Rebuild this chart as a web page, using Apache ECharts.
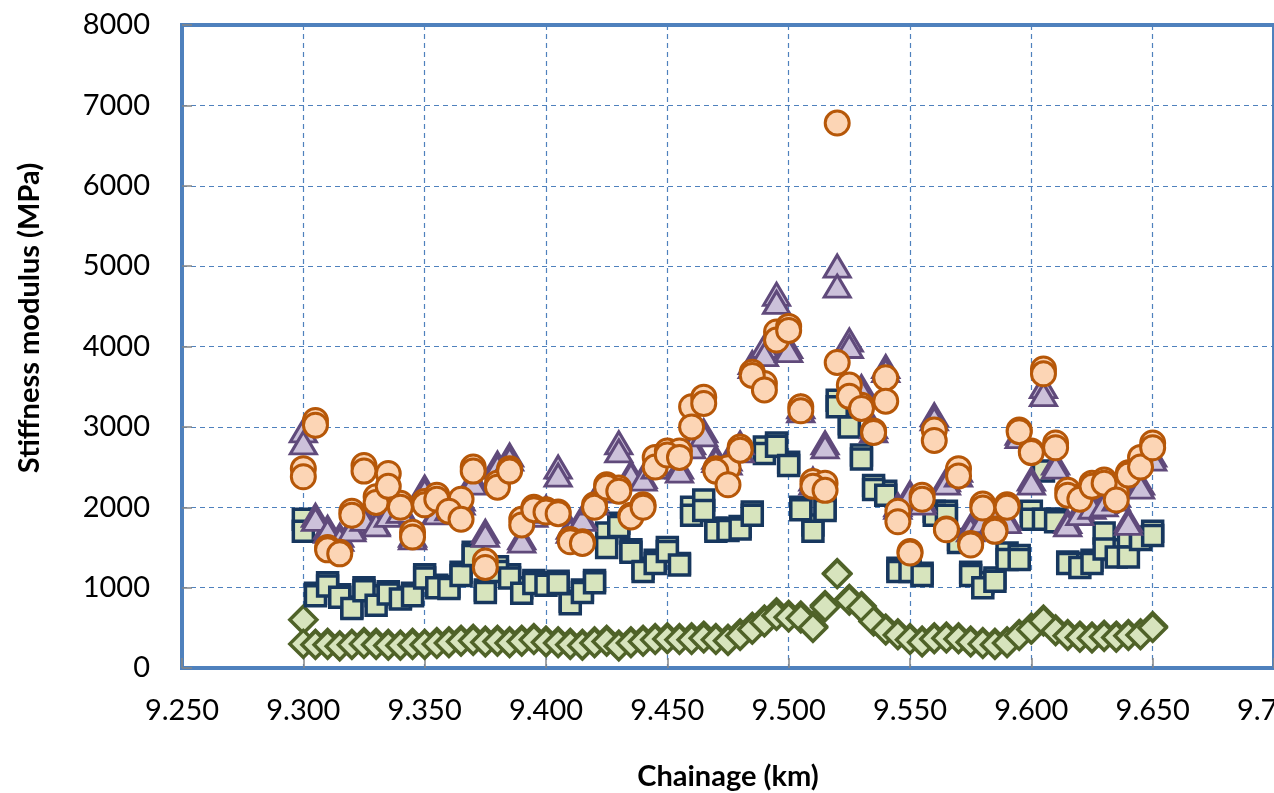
<!DOCTYPE html>
<html>
<head>
<meta charset="utf-8">
<script src="https://cdn.jsdelivr.net/npm/echarts@6/dist/echarts.min.js"></script>
<style>
  html, body { margin: 0; padding: 0; background: #ffffff; }
  #chart { width: 1274px; height: 793px; }
</style>
</head>
<body>
<div id="chart"></div>
<script>
// Survey stations along the alignment (km)
const chainage = [
  9.300, 9.305, 9.310, 9.315, 9.320, 9.325, 9.330, 9.335, 9.340, 9.345,
  9.350, 9.355, 9.360, 9.365, 9.370, 9.375, 9.380, 9.385, 9.390, 9.395,
  9.400, 9.405, 9.410, 9.415, 9.420, 9.425, 9.430, 9.435, 9.440, 9.445,
  9.450, 9.455, 9.460, 9.465, 9.470, 9.475, 9.480, 9.485, 9.490, 9.495,
  9.500, 9.505, 9.510, 9.515, 9.520, 9.525, 9.530, 9.535, 9.540, 9.545,
  9.550, 9.555, 9.560, 9.565, 9.570, 9.575, 9.580, 9.585, 9.590, 9.595,
  9.600, 9.605, 9.610, 9.615, 9.620, 9.625, 9.630, 9.635, 9.640, 9.645,
  9.650
];

// Stiffness modulus (MPa), two repeat drops per station
const triangleRunA = [
  2950, 1900, 1750, 1650, 1750, 1900, 1800, 1950, 2000, 1650,
  2250, 1950, 2000, 2100, 2350, 1700, 2550, 2650, 1620, 1930,
  2000, 2500, 1750, 1880, 2100, 2250, 2800, 2430, 2380, 2550,
  2700, 2500, 2800, 2950, 2620, 2600, 2800, 3800, 4000, 4650,
  4000, 3250, 2350, 2800, 5000, 4080, 3500, 3000, 3750, 2030,
  2180, 2090, 3150, 2340, 2460, 1770, 1860, 1900, 1860, 2920,
  2350, 3500, 2550, 1820, 1970, 2050, 2070, 2150, 1840, 2300,
  2650
];
const triangleRunB = [
  2800, 1850, 1700, 1600, 1720, 1850, 1780, 1900, 1950, 1620,
  2200, 1930, 1980, 2050, 2300, 1650, 2500, 2600, 1580, 1900,
  1950, 2400, 1700, 1850, 2050, 2200, 2700, 2400, 2350, 2500,
  2650, 2450, 2750, 2900, 2580, 2550, 2700, 3750, 3900, 4550,
  3950, 3200, 2300, 2750, 4750, 4000, 3450, 2950, 3700, 2000,
  2150, 2050, 3100, 2300, 2400, 1720, 1820, 1850, 1820, 2880,
  2300, 3400, 2500, 1780, 1920, 2000, 2030, 2100, 1800, 2250,
  2600
];

const circleRunA = [
  2480, 3080, 1500, 1440, 1950, 2520, 2130, 2420, 2050, 1690,
  2070, 2150, 1970, 2100, 2500, 1330, 2300, 2480, 1850, 2000,
  1970, 1940, 1600, 1570, 2030, 2280, 2240, 1900, 2030, 2620,
  2700, 2700, 3250, 3370, 2480, 2490, 2750, 3680, 3540, 4180,
  4250, 3250, 2320, 2300, 3800, 3520, 3270, 2950, 3610, 1950,
  1450, 2150, 2960, 1730, 2480, 1550, 2040, 1730, 2030, 2960,
  2700, 3720, 2800, 2210, 2130, 2300, 2340, 2180, 2430, 2620,
  2800
];
const circleRunB = [
  2380, 3020, 1470, 1420, 1900, 2450, 2060, 2260, 2000, 1630,
  2030, 2100, 1950, 1850, 2450, 1250, 2250, 2450, 1780, 1970,
  1940, 1920, 1570, 1550, 2000, 2250, 2200, 1880, 2000, 2500,
  2650, 2620, 3000, 3290, 2450, 2280, 2710, 3640, 3460, 4080,
  4200, 3200, 2260, 2210, 6780, 3380, 3230, 2930, 3320, 1820,
  1430, 2100, 2830, 1720, 2390, 1530, 1990, 1700, 2000, 2940,
  2680, 3660, 2740, 2150, 2100, 2260, 2300, 2090, 2400, 2500,
  2740
];

const squareRunA = [
  1850,  930, 1060,  910,  760, 1000,  900,  950,  880,  930,
  1160, 1030, 1010, 1190, 1440,  970, 1260, 1160, 1000, 1090,
  1060, 1080,  830,  970, 1090, 1680, 1800, 1470, 1240, 1340,
  1500, 1300, 2000, 2090, 1740, 1740, 1760, 1940, 2750, 2800,
  2560, 2000, 1780, 1990, 3330, 3040, 2650, 2270, 2200, 1240,
  1240, 1180, 1950, 1950, 1600, 1190, 1060, 1120, 1430, 1400,
  1950, 2450, 1850, 1320, 1300, 1340, 1680, 1470, 1590, 1630,
  1700
];
const squareRunB = [
  1700,  900, 1020,  880,  740,  960,  780,  920,  860,  900,
  1120, 1000,  990, 1150, 1400,  940, 1200, 1120,  930, 1050,
  1030, 1050,  800,  940, 1060, 1500, 1760, 1440, 1200, 1300,
  1450, 1280, 1900, 1960, 1700, 1710, 1730, 1900, 2670, 2760,
  2520, 1970, 1700, 1960, 3250, 3000, 2600, 2220, 2150, 1200,
  1200, 1150, 1900, 1900, 1560, 1150, 1000, 1080, 1350, 1350,
  1850, 1850, 1820, 1300, 1250, 1300, 1480, 1380, 1380, 1600,
  1650
];

const diamondRunA = [
   600,  300,  310,  280,  300,  320,  310,  300,  290,  310,
   300,  320,  330,  350,  360,  340,  350,  330,  350,  370,
   340,  330,  310,  300,  330,  350,  290,  330,  350,  370,
   380,  370,  380,  400,  370,  360,  430,  510,  600,  690,
   660,  650,  520,  780, 1180,  860,  770,  600,  490,  430,
   370,  340,  380,  390,  380,  340,  320,  310,  330,  420,
   500,  600,  480,  420,  400,  390,  410,  400,  420,  430,
   520
];
const diamondRunB = [
   300,  290,  290,  270,  290,  300,  290,  280,  280,  290,
   290,  300,  310,  330,  340,  320,  330,  310,  330,  350,
   320,  310,  290,  280,  310,  330,  270,  310,  330,  350,
   360,  350,  350,  370,  350,  340,  400,  480,  570,  650,
   630,  620,  500,  760, 1170,  840,  750,  580,  470,  410,
   350,  320,  360,  370,  360,  320,  300,  290,  310,  400,
   480,  580,  460,  400,  380,  370,  390,  380,  400,  410,
   500
];

// Axis tick labels
const xTickLabels = ['9.250', '9.300', '9.350', '9.400', '9.450', '9.500', '9.550', '9.600', '9.650', '9.700'];
const yTickLabels = ['0', '1000', '2000', '3000', '4000', '5000', '6000', '7000', '8000'];

function pairs(runA, runB) {
  const out = [];
  chainage.forEach((x, i) => { out.push([x, runA[i]]); });
  chainage.forEach((x, i) => { out.push([x, runB[i]]); });
  return out;
}

const chart = echarts.init(document.getElementById('chart'), null, { renderer: 'canvas' });
const FONT = 'Lato, "Open Sans", sans-serif';

const option = {
  backgroundColor: '#ffffff',
  animation: false,
  grid: {
    left: 182, top: 25, width: 1092, height: 643,
    outerBoundsMode: 'none',
    containLabel: false,
    show: true,
    borderColor: '#4f81bd',
    borderWidth: 4,
    backgroundColor: 'transparent'
  },
  xAxis: {
    type: 'value',
    min: 9.25, max: 9.70, interval: 0.05,
    axisLine: { show: false },
    axisTick: { show: true, inside: true, length: 10, lineStyle: { color: '#868686', width: 1.5 } },
    splitLine: { show: true, lineStyle: { color: '#4f81bd', width: 1.2, type: [5, 4] } },
    axisLabel: {
      margin: 28, color: '#000', fontFamily: FONT, fontSize: 29,
      showMinLabel: true, showMaxLabel: true,
      hideOverlap: false,
      formatter: v => xTickLabels[Math.round((v - 9.25) / 0.05)]
    },
    name: 'Chainage (km)',
    nameLocation: 'middle',
    nameGap: 94,
    nameTextStyle: { color: '#000', fontFamily: FONT, fontSize: 29, fontWeight: 'bold' }
  },
  yAxis: {
    type: 'value',
    min: 0, max: 8000, interval: 1000,
    axisLine: { show: false },
    axisTick: { show: true, inside: true, length: 10, lineStyle: { color: '#868686', width: 1.5 } },
    splitLine: { show: true, lineStyle: { color: '#4f81bd', width: 1.2, type: [5, 4] } },
    axisLabel: {
      margin: 32, color: '#000', fontFamily: FONT, fontSize: 29,
      formatter: v => yTickLabels[Math.round(v / 1000)]
    }
  },
  graphic: [{
    type: 'text',
    x: 30, y: 318,
    rotation: Math.PI / 2,
    style: {
      text: 'Stiffness modulus (MPa)',
      fill: '#000',
      font: 'bold 29px ' + FONT,
      textAlign: 'center',
      textVerticalAlign: 'middle'
    }
  }],
  series: [
    {
      type: 'scatter', name: 'diamond',
      symbol: 'diamond', symbolSize: 27,
      itemStyle: { color: '#d7e4bd', borderColor: '#4f6228', borderWidth: 3.5, opacity: 1 },
      data: pairs(diamondRunA, diamondRunB), z: 2
    },
    {
      type: 'scatter', name: 'square',
      symbol: 'rect', symbolSize: 20,
      itemStyle: { color: '#d7e4bd', borderColor: '#17375e', borderWidth: 3.5, opacity: 1 },
      data: pairs(squareRunA, squareRunB), z: 3
    },
    {
      type: 'scatter', name: 'triangle',
      symbol: 'triangle', symbolSize: [26, 22],
      itemStyle: { color: '#ccc1da', borderColor: '#604a7b', borderWidth: 3, opacity: 1 },
      data: pairs(triangleRunA, triangleRunB), z: 4
    },
    {
      type: 'scatter', name: 'circle',
      symbol: 'circle', symbolSize: 24,
      itemStyle: { color: '#fcd5b5', borderColor: '#b65708', borderWidth: 3, opacity: 1 },
      data: pairs(circleRunA, circleRunB), z: 5
    }
  ]
};

chart.setOption(option);
</script>
</body>
</html>
